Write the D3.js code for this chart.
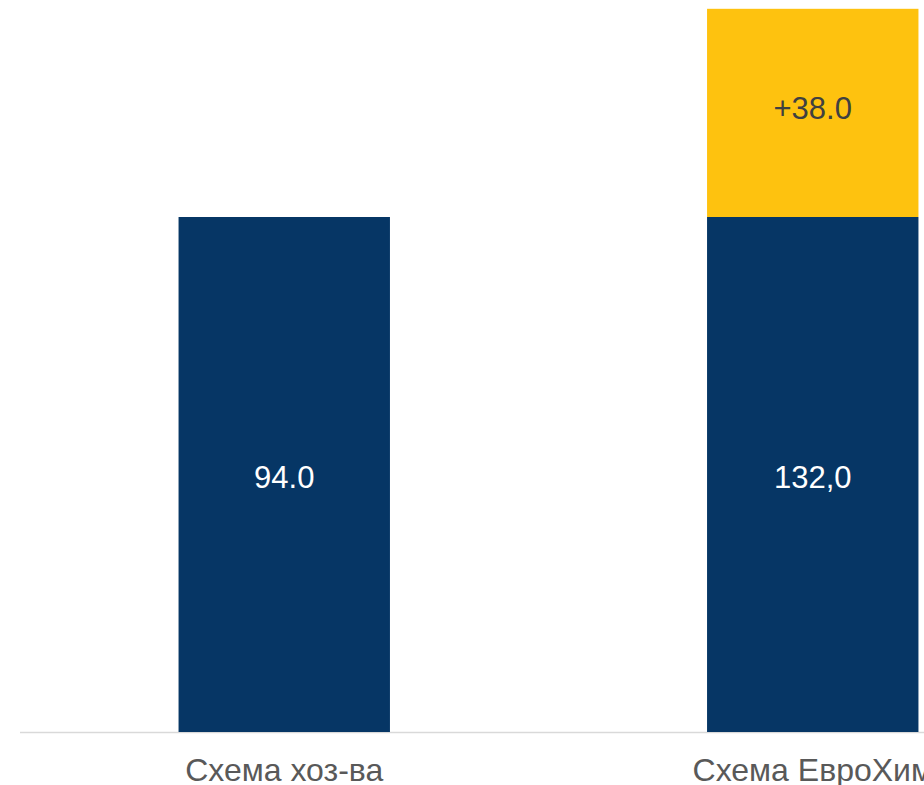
<!DOCTYPE html>
<html>
<head>
<meta charset="utf-8">
<script src="https://cdn.jsdelivr.net/npm/d3@7"></script>
<style>
  html, body { margin: 0; padding: 0; background: #fff; overflow: hidden; }
  svg { display: block; }
  .bar-label { font-family: "Liberation Sans", Arial, sans-serif; font-size: 31px; text-anchor: middle; }
  .cat-label { font-family: "Liberation Sans", Arial, sans-serif; font-size: 32px; fill: #595959; text-anchor: middle; }
</style>
</head>
<body>
<svg id="chart" width="924" height="785"></svg>
<script>
// data
var categories = ['Схема хоз-ва', 'Схема ЕвроХим'];
var baseValues = [94.0, 94.0];
var addValues = [0, 38.0];
var baseLabels = ['94.0', '132,0'];
var addLabels = ['', '+38.0'];

var chart = {
    width: 924,
    height: 785,
    left: 20,
    right: 1077,
    baseline: 732,
    top: 217
};

var svg = d3.select('#chart');

var scaleX = d3.scaleBand()
    .domain(categories)
    .range([chart.left, chart.right])
    .paddingInner(0.6)
    .paddingOuter(0.3);

var scaleY = d3.scaleLinear()
    .domain([0, 94])
    .range([chart.baseline, chart.top]);

var rows = categories.map(function(c, i){
    return {cat: c, base: baseValues[i], add: addValues[i], baseLabel: baseLabels[i], addLabel: addLabels[i]};
});

// baseline
svg.append('line')
    .attr('x1', chart.left)
    .attr('x2', chart.right)
    .attr('y1', chart.baseline + 0.5)
    .attr('y2', chart.baseline + 0.5)
    .style('stroke', '#d9d9d9')
    .style('stroke-width', 1.5);

// navy base bars
svg.selectAll('rect.base')
    .data(rows)
    .enter().append('rect')
    .attr('class', 'base')
    .attr('x', function(d){ return scaleX(d.cat); })
    .attr('width', scaleX.bandwidth())
    .attr('y', function(d){ return scaleY(d.base); })
    .attr('height', function(d){ return scaleY(0) - scaleY(d.base); })
    .style('fill', '#063665');

// yellow increment
var addRows = rows.filter(function(d){ return d.add > 0; });
svg.selectAll('rect.add')
    .data(addRows)
    .enter().append('rect')
    .attr('class', 'add')
    .attr('x', function(d){ return scaleX(d.cat); })
    .attr('width', scaleX.bandwidth())
    .attr('y', function(d){ return scaleY(d.base + d.add); })
    .attr('height', function(d){ return scaleY(d.base) - scaleY(d.base + d.add); })
    .style('fill', '#fec20f');

// value labels
svg.selectAll('text.base-label')
    .data(rows)
    .enter().append('text')
    .attr('class', 'bar-label base-label')
    .attr('x', function(d){ return scaleX(d.cat) + scaleX.bandwidth() / 2; })
    .attr('y', function(d){ return (scaleY(0) + scaleY(d.base)) / 2 + 13; })
    .style('fill', '#ffffff')
    .text(function(d){ return d.baseLabel; });

svg.selectAll('text.add-label')
    .data(addRows)
    .enter().append('text')
    .attr('class', 'bar-label add-label')
    .attr('x', function(d){ return scaleX(d.cat) + scaleX.bandwidth() / 2; })
    .attr('y', function(d){ return (scaleY(d.base) + scaleY(d.base + d.add)) / 2 + 6; })
    .style('fill', '#404040')
    .text(function(d){ return d.addLabel; });

// category labels
svg.selectAll('text.cat-label')
    .data(categories)
    .enter().append('text')
    .attr('class', 'cat-label')
    .attr('x', function(d){ return scaleX(d) + scaleX.bandwidth() / 2; })
    .attr('y', 781)
    .text(function(d){ return d; });
</script>
</body>
</html>
